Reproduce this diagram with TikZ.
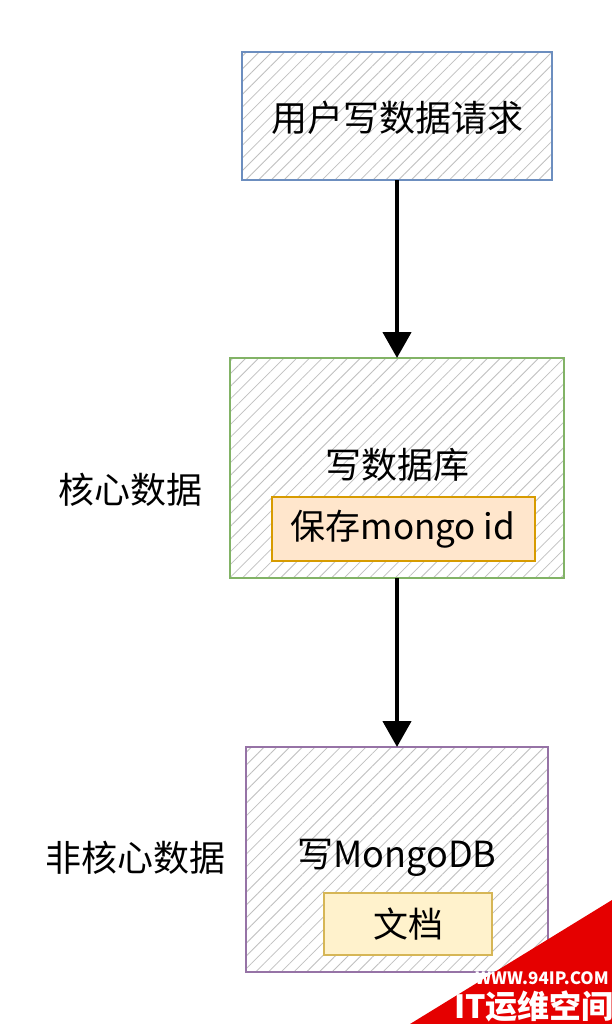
\documentclass[tikz,border=0pt]{standalone}
\usepackage{fontspec}
\setmainfont{Noto Sans CJK SC}
\usetikzlibrary{positioning,arrows.meta,patterns.meta}
\definecolor{boxblue}{HTML}{6C8EBF}
\definecolor{boxgreen}{HTML}{82B366}
\definecolor{boxpurple}{HTML}{9673A6}
\definecolor{tagorange}{HTML}{D79B00}
\definecolor{tagpeach}{HTML}{FFE6CC}
\definecolor{tagyellow}{HTML}{D6B656}
\definecolor{tagcream}{HTML}{FFF2CC}
\tikzset{
  hatchbox/.style={draw=#1,line width=2.2pt,
    pattern={Lines[angle=45,distance=9pt,line width=0.8pt]},pattern color=gray!50},
  tagbox/.style={line width=2pt,inner sep=0pt,font=\fontsize{35}{40}\selectfont},
  bigtext/.style={font=\fontsize{36}{40}\selectfont},
  flow/.style={-{Triangle[length=26pt,width=28pt]},line width=4.5pt}
}
\begin{document}
\begin{tikzpicture}[x=1pt,y=-1pt]
\useasboundingbox[fill=white] (0,0) rectangle (612,1024);
% boxes
\draw[hatchbox=boxblue] (242,52) rectangle (552,180);
\draw[hatchbox=boxgreen] (230,358) rectangle (564,578);
\draw[hatchbox=boxpurple] (246,747) rectangle (548,972);
\coordinate (req-s) at (397,180);
\coordinate (db-n) at (397,358);
\coordinate (db-s) at (397,578);
\coordinate (mg-n) at (397,747);
\node[bigtext] (req) at (397,118) {用户写数据请求};
\node[bigtext] (db) at (397,465) {写数据库};
\node[tagbox,draw=tagorange,fill=tagpeach,minimum width=263pt,minimum height=64pt] (dbid) at (403,529) {保存mongo id};
\node[bigtext] (mg) at (397,858) {写MongoDB};
\node[tagbox,draw=tagyellow,fill=tagcream,minimum width=168pt,minimum height=62pt] (doc) at (408,924) {文档};
% side labels
\node[bigtext] (core) at (130,490) {核心数据};
\node[bigtext] (noncore) at (135,858) {非核心数据};
% arrows
\draw[flow] (req-s) -- (db-n);
\draw[flow] (db-s) -- (mg-n);
% watermark
\fill[red!90!black] (410,1024) -- (612,900) -- (612,1024) -- cycle;
\node[white,font=\bfseries\fontsize{17}{18}\selectfont] (wm1) at (542,978) {WWW.94IP.COM};
\node[white,font=\bfseries\fontsize{32}{34}\selectfont] (wm2) at (534,1006) {IT运维空间};
\end{tikzpicture}
\end{document}
